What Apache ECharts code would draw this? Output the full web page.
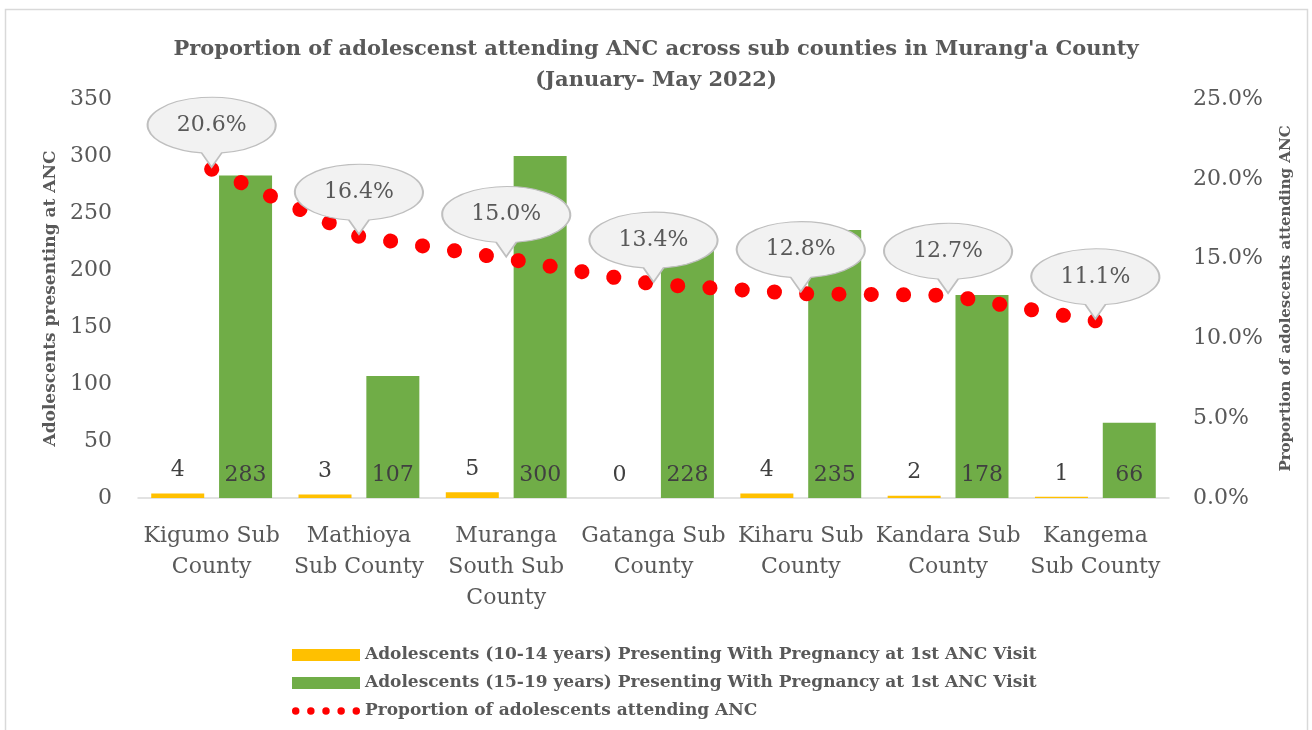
<!DOCTYPE html>
<html>
<head>
<meta charset="utf-8">
<title>Adolescents attending ANC - Murang'a County</title>
<script src="https://cdn.jsdelivr.net/npm/echarts@6/dist/echarts.min.js"></script>
<style>
  html, body { margin: 0; padding: 0; background: #fff; }
  #chart { width: 1312px; height: 730px; }
</style>
</head>
<body>
<div id="chart"></div>
<script>
// categories (tick labels, wrapped as in the original)
var subCounties = [
  'Kigumo Sub\nCounty',
  'Mathioya\nSub County',
  'Muranga\nSouth Sub\nCounty',
  'Gatanga Sub\nCounty',
  'Kiharu Sub\nCounty',
  'Kandara Sub\nCounty',
  'Kangema\nSub County'
];
// series values
var age10to14 = [4, 3, 5, 0, 4, 2, 1];
var age15to19 = [283, 107, 300, 228, 235, 178, 66];
var proportionPct = [20.6, 16.4, 15.0, 13.4, 12.8, 12.7, 11.1];

var serif = '"DejaVu Serif", "Liberation Serif", serif';

// speech bubble outline (ellipse + tail pointing down)
var bubblePath = 'path://M74,55.7A63.5,28,0,1,0,54,55.7L64,70L74,55.7Z';

// five round dots for the legend entry of the dotted line
var dotsIcon = 'path://' + [4, 20.25, 36.5, 52.75, 69].map(function (cx) {
  return 'M' + (cx - 4) + ',4A4,4,0,1,0,' + (cx + 4) + ',4A4,4,0,1,0,' + (cx - 4) + ',4Z';
}).join('');

var chart = echarts.init(document.getElementById('chart'));

var option = {
  animation: false,
  title: {
    text: "Proportion of adolescenst attending ANC across sub counties in Murang'a County\n(January- May 2022)",
    left: 'center',
    top: 29,
    textStyle: {
      fontFamily: serif,
      fontWeight: 'bold',
      fontSize: 21,
      lineHeight: 31,
      color: '#595959'
    }
  },
  graphic: [{
    type: 'rect',
    left: 3,
    top: 7,
    silent: true,
    shape: { width: 1302, height: 740 },
    style: { fill: 'none', stroke: '#d9d9d9', lineWidth: 1.5 }
  }],
  legend: {
    orient: 'vertical',
    left: 287,
    top: 640,
    itemWidth: 68,
    itemHeight: 12,
    itemGap: 8,
    selectedMode: false,
    textStyle: {
      fontFamily: serif,
      fontWeight: 'bold',
      fontSize: 17,
      lineHeight: 20,
      color: '#595959'
    },
    data: [
      { name: 'Adolescents (10-14 years) Presenting With Pregnancy at 1st ANC Visit', icon: 'rect' },
      { name: 'Adolescents (15-19 years) Presenting With Pregnancy at 1st ANC Visit', icon: 'rect' },
      { name: 'Proportion of adolescents attending ANC', icon: dotsIcon }
    ]
  },
  grid: {
    left: 138,
    right: 143,
    top: 99,
    bottom: 232
  },
  xAxis: {
    type: 'category',
    data: subCounties,
    axisLine: { lineStyle: { color: '#d9d9d9', width: 1.5 } },
    axisTick: { show: false },
    axisLabel: {
      interval: 0,
      margin: 23,
      fontFamily: serif,
      fontSize: 22,
      lineHeight: 31,
      color: '#595959'
    }
  },
  yAxis: [{
    type: 'value',
    min: 0,
    max: 350,
    interval: 50,
    name: 'Adolescents presenting at ANC',
    nameLocation: 'middle',
    nameRotate: 90,
    nameGap: 79,
    nameTextStyle: {
      fontFamily: serif,
      fontWeight: 'bold',
      fontSize: 17,
      color: '#595959'
    },
    splitLine: { show: false },
    axisLine: { show: false },
    axisTick: { show: false },
    axisLabel: {
      margin: 26,
      fontFamily: serif,
      fontSize: 22,
      color: '#595959'
    }
  }, {
    type: 'value',
    min: 0,
    max: 25,
    interval: 5,
    position: 'right',
    name: 'Proportion of adolescents attending ANC',
    nameLocation: 'middle',
    nameRotate: 90,
    nameGap: 110,
    nameTextStyle: {
      fontFamily: serif,
      fontWeight: 'bold',
      fontSize: 15,
      color: '#595959'
    },
    splitLine: { show: false },
    axisLine: { show: false },
    axisTick: { show: false },
    axisLabel: {
      margin: 24,
      fontFamily: serif,
      fontSize: 22,
      color: '#595959',
      formatter: function (v) { return v.toFixed(1) + '%'; }
    }
  }],
  series: [{
    name: 'Adolescents (10-14 years) Presenting With Pregnancy at 1st ANC Visit',
    type: 'bar',
    data: age10to14,
    barWidth: 53,
    barGap: '28%',
    itemStyle: { color: '#ffc000' },
    label: {
      show: true,
      position: 'top',
      distance: 12,
      fontFamily: serif,
      fontSize: 22,
      color: '#404040'
    }
  }, {
    name: 'Adolescents (15-19 years) Presenting With Pregnancy at 1st ANC Visit',
    type: 'bar',
    data: age15to19,
    barWidth: 53,
    barGap: '28%',
    itemStyle: { color: '#70ad47' },
    label: {
      show: true,
      position: 'insideBottom',
      distance: 12,
      fontFamily: serif,
      fontSize: 22,
      color: '#404040'
    }
  }, {
    name: 'Proportion of adolescents attending ANC',
    type: 'line',
    yAxisIndex: 1,
    data: proportionPct,
    symbol: 'none',
    z: 5,
    itemStyle: { color: '#ff0000' },
    lineStyle: {
      color: '#ff0000',
      width: 15,
      type: [0.1, 32.2],
      cap: 'round'
    },
    markPoint: {
      z: 10,
      symbol: bubblePath,
      symbolSize: [128, 70],
      symbolOffset: [0, -37],
      itemStyle: {
        color: '#f2f2f2',
        borderColor: '#bfbfbf',
        borderWidth: 1.5
      },
      label: {
        show: true,
        offset: [0, -7],
        fontFamily: serif,
        fontSize: 22,
        color: '#595959',
        formatter: function (p) { return p.value.toFixed(1) + '%'; }
      },
      data: proportionPct.map(function (v, i) {
        return { coord: [subCounties[i], v], value: v };
      })
    }
  }]
};

chart.setOption(option);
</script>
</body>
</html>
